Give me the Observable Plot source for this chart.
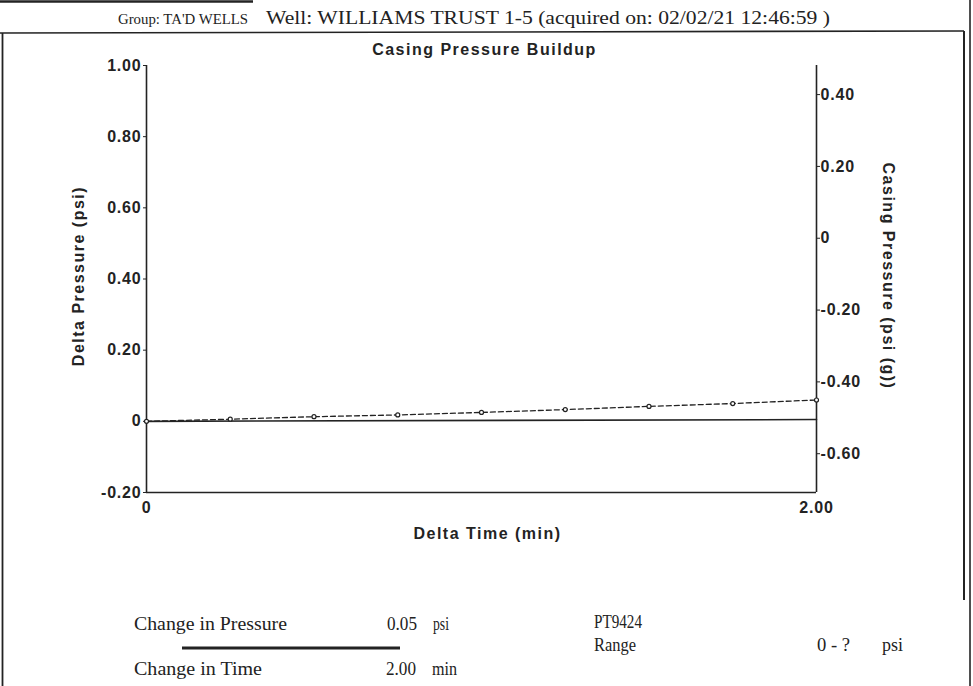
<!DOCTYPE html>
<html>
<head>
<meta charset="utf-8">
<script src="https://cdn.jsdelivr.net/npm/d3@7"></script>
<script src="https://cdn.jsdelivr.net/npm/@observablehq/plot@0.6"></script>
<style>
  html, body { margin: 0; padding: 0; background: #fff; }
  #page { position: relative; width: 973px; height: 686px; overflow: hidden; background: #fff; }
  #chart { position: absolute; left: 0; top: 40px; }
  #overlay { position: absolute; left: 0; top: 0; pointer-events: none; }
  #overlay text { font-family: "Liberation Serif", "Times New Roman", serif; fill: #222; }
</style>
</head>
<body>
<div id="page">
  <div id="chart"></div>
  <svg id="overlay" width="973" height="686"></svg>
</div>
<script>
// ---- data ----
const chartTitle = "Casing Pressure Buildup";
const xLabel = "Delta Time (min)";
const yLeftLabel = "Delta Pressure (psi)";
const yRightLabel = "Casing Pressure (psi (g))";
const xTicks = [0, 2];
const yLeftTicks = [-0.2, 0, 0.2, 0.4, 0.6, 0.8, 1.0];
const yRightTicks = [-0.6, -0.4, -0.2, 0, 0.2, 0.4];
const xDomain = [0, 2];
const yLeftDomain = [-0.2, 1.0];
const yRightDomain = [-0.708, 0.481];
const deltaTime = [0, 0.25, 0.5, 0.75, 1.0, 1.25, 1.5, 1.75, 2.0];
const deltaPressure = [0, 0.006, 0.013, 0.018, 0.025, 0.033, 0.042, 0.050, 0.060];
const baseTime = [0, 2.0];
const basePressure = [0, 0.005];
const headerGroup = "Group: TA'D WELLS";
const headerWell = "Well: WILLIAMS TRUST 1-5 (acquired on: 02/02/21 12:46:59 )";
const changePressureLabel = "Change in Pressure";
const changePressureValue = "0.05";
const changePressureUnit = "psi";
const changeTimeLabel = "Change in Time";
const changeTimeValue = "2.00";
const changeTimeUnit = "min";
const sensorName = "PT9424";
const rangeLabel = "Range";
const rangeValue = "0 - ?";
const rangeUnit = "psi";

// ---- build ----
const fmt = v => { const r = Math.round(v * 100) / 100; return Math.abs(r) < 1e-9 ? "0" : r.toFixed(2); };
const toLeft = d3.scaleLinear().domain(yRightDomain).range(yLeftDomain);

const dashed = deltaTime.map((t, i) => ({t, p: deltaPressure[i]}));
const base = baseTime.map((t, i) => ({t, p: basePressure[i]}));
const ink = "#232323";
const tickFont = {fontSize: 16, fontWeight: "bold", fontFamily: "'Liberation Sans', Arial, sans-serif"};

const plot = Plot.plot({
  width: 973,
  height: 520,
  marginLeft: 146,
  marginRight: 157,
  marginTop: 25,
  marginBottom: 68,
  x: {domain: xDomain},
  y: {domain: yLeftDomain},
  style: {fontFamily: "'Liberation Sans', Arial, sans-serif", fontSize: "16px", fontWeight: "bold", color: ink, background: "transparent", letterSpacing: "0.8px"},
  marks: [
    Plot.ruleX([xDomain[0]], {stroke: ink, strokeWidth: 1.6}),
    Plot.ruleX([xDomain[1]], {stroke: ink, strokeWidth: 1.6}),
    Plot.ruleY([yLeftDomain[0]], {stroke: ink, strokeWidth: 1.6}),
    Plot.axisY(yLeftTicks, {anchor: "left", tickSize: 3, tickPadding: 2, tickFormat: fmt, label: null, stroke: ink, ...tickFont}),
    Plot.axisY(yRightTicks.map(v => toLeft(v)), {anchor: "right", tickSize: 3, tickPadding: 1, tickFormat: d => fmt(toLeft.invert(d)), label: null, stroke: ink, ...tickFont}),
    Plot.axisX(xTicks, {anchor: "bottom", tickSize: 0, tickPadding: 9, tickFormat: fmt, label: null, ...tickFont}),
    Plot.line(base, {x: "t", y: "p", stroke: ink, strokeWidth: 1.6}),
    Plot.line(dashed, {x: "t", y: "p", stroke: ink, strokeWidth: 1.3, strokeDasharray: "5,3"}),
    Plot.dot(dashed, {x: "t", y: "p", r: 2, stroke: ink, fill: "white", strokeWidth: 1.2}),
    Plot.text([chartTitle], {frameAnchor: "top", dx: 3, dy: -22, text: d => d, fontSize: 16, fontWeight: "bold"}),
    Plot.text([xLabel], {frameAnchor: "bottom", dx: 6, dy: 46, text: d => d, fontSize: 16, fontWeight: "bold"}),
    Plot.text([yLeftLabel], {frameAnchor: "left", textAnchor: "middle", dx: -68, dy: -3, rotate: -90, text: d => d, fontSize: 16, fontWeight: "bold"}),
    Plot.text([yRightLabel], {frameAnchor: "right", textAnchor: "middle", dx: 72, dy: -3, rotate: 90, text: d => d, fontSize: 16, fontWeight: "bold"})
  ]
});
document.getElementById("chart").appendChild(plot);
d3.select(plot).selectAll("text").filter(function() {
  const s = this.textContent;
  return s === chartTitle || s === xLabel || s === yLeftLabel || s === yRightLabel;
}).style("letter-spacing", "1.5px");

// ---- page furniture ----
const ov = d3.select("#overlay");
const lines = [
  [0, 1.5, 253, 1.5, 2.5],
  [0, 33, 964, 31, 1.6],
  [2.5, 33, 2.5, 686, 1.8],
  [964, 31, 964, 600, 2],
  [970, 0, 970, 686, 1.6],
  [182, 648, 400, 648, 3]
];
ov.selectAll("line").data(lines).join("line")
  .attr("x1", d => d[0]).attr("y1", d => d[1]).attr("x2", d => d[2]).attr("y2", d => d[3])
  .attr("stroke", ink).attr("stroke-width", d => d[4]);
const texts = [
  [headerGroup, 118, 24, 130, 14.5],
  [headerWell, 266, 24, 564, 18],
  [changePressureLabel, 134, 630, 153, 19],
  [changePressureValue, 387, 630, 30, 19],
  [changePressureUnit, 433, 630, 16, 19],
  [changeTimeLabel, 134, 675, 128, 19],
  [changeTimeValue, 386, 675, 30, 19],
  [changeTimeUnit, 432, 675, 25, 19],
  [sensorName, 594, 628, 48, 18],
  [rangeLabel, 594, 651, 42, 18],
  [rangeValue, 817, 651, 33, 18],
  [rangeUnit, 882, 651, 21, 18]
];
ov.selectAll("text").data(texts).join("text")
  .attr("x", d => d[1]).attr("y", d => d[2])
  .attr("textLength", d => d[3]).attr("lengthAdjust", "spacingAndGlyphs")
  .attr("font-size", d => d[4])
  .text(d => d[0]);
</script>
</body>
</html>
